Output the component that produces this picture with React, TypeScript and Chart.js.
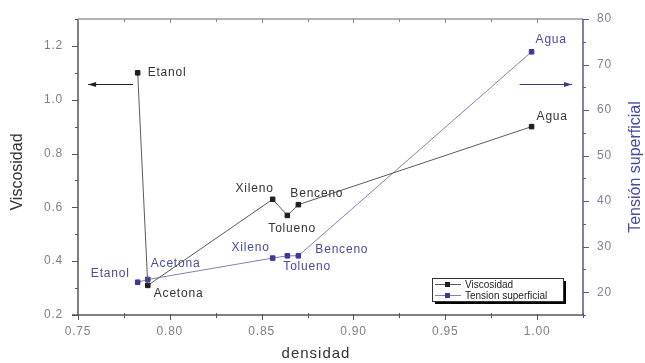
import React, { useEffect, useRef } from "react";
import { Chart, registerables } from "chart.js";

Chart.register(...registerables);

// ---- data ----
const compounds = ["Etanol", "Acetona", "Xileno", "Tolueno", "Benceno", "Agua"];
const densidadVisc = [0.7825, 0.788, 0.856, 0.864, 0.87, 0.997];
const viscosidad = [1.1, 0.31, 0.63, 0.57, 0.61, 0.9];
const densidadTens = [0.7825, 0.788, 0.856, 0.864, 0.87, 0.997];
const tension = [22.2, 22.8, 27.5, 28.0, 28.0, 72.8];
const xTickValues = [0.75, 0.8, 0.85, 0.9, 0.95, 1.0];
const leftTickValues = [0.2, 0.4, 0.6, 0.8, 1.0, 1.2];
const rightTickValues = [20, 30, 40, 50, 60, 70, 80];
const seriesNames = ["Viscosidad", "Tension superficial"];

const BLACK = "#1e1e1e";
const BLACK_LINE = "#5a5a5a";
const BLUE = "#3a3a96";
const BLUE_LINE = "#8080b8";
const BLUE_TEXT = "#4a4aa0";
const FONT = "'Liberation Sans', Arial, sans-serif";

// label offsets (dx, dy, align) per series/point
const blackLabelPos: [number, number, CanvasTextAlign][] = [
  [10, 0, "left"],
  [6, 8, "left"],
  [1, -11, "right"],
  [-19, 13, "left"],
  [-8, -11, "left"],
  [5, -10, "left"],
];
const blueLabelPos: [number, number, CanvasTextAlign][] = [
  [-8, -9, "right"],
  [3, -16, "left"],
  [-3, -10, "right"],
  [-4, 11, "left"],
  [17, -6, "left"],
  [4, -12, "left"],
];

const decorPlugin = {
  id: "decor",
  beforeDraw(chart: any) {
    try { chart.ctx.letterSpacing = "0.8px"; } catch (e) {}
  },
  afterDatasetsDraw(chart: any) {
    const { ctx, chartArea, scales } = chart;
    const { left, right, top, bottom } = chartArea;
    const x = scales.x;
    const yl = scales.y;
    const yr = scales.y1;
    ctx.save();

    // top border
    ctx.strokeStyle = "#9a9a9a";
    ctx.lineWidth = 1.5;
    ctx.beginPath();
    ctx.moveTo(left, top);
    ctx.lineTo(right, top);
    ctx.stroke();
    // bottom axis
    ctx.strokeStyle = "#555";
    ctx.beginPath();
    ctx.moveTo(left - 6, bottom);
    ctx.lineTo(right, bottom);
    ctx.stroke();
    // left axis
    ctx.beginPath();
    ctx.moveTo(left, top);
    ctx.lineTo(left, bottom + 1);
    ctx.stroke();
    // right axis
    ctx.strokeStyle = "#5a5a8c";
    ctx.beginPath();
    ctx.moveTo(right, top);
    ctx.lineTo(right, bottom + 1);
    ctx.stroke();

    // x ticks (bottom outward, top inward)
    ctx.lineWidth = 1;
    for (let v = 0.75; v <= 1.0251; v += 0.025) {
      const major = Math.abs(Math.round(v / 0.05) * 0.05 - v) < 1e-6;
      const px = Math.round(x.getPixelForValue(v)) + 0.5;
      ctx.strokeStyle = "#555";
      ctx.beginPath();
      ctx.moveTo(px, bottom - (major ? 1 : 2));
      ctx.lineTo(px, bottom + (major ? 5 : 3));
      ctx.stroke();
      ctx.strokeStyle = "#888";
      ctx.beginPath();
      ctx.moveTo(px, top);
      ctx.lineTo(px, top + (major ? 4 : 3));
      ctx.stroke();
    }
    // left ticks
    ctx.strokeStyle = "#555";
    for (let v = 0.2; v <= 1.3001; v += 0.1) {
      const major = Math.round(v * 10) % 2 === 0;
      const py = Math.round(yl.getPixelForValue(v)) + 0.5;
      ctx.beginPath();
      ctx.moveTo(left, py);
      ctx.lineTo(left - (major ? 6 : 3), py);
      ctx.stroke();
    }
    // right ticks
    ctx.strokeStyle = "#5a5a8c";
    for (let v = 15; v <= 80.001; v += 5) {
      const major = v % 10 === 0;
      const py = Math.round(yr.getPixelForValue(v)) + 0.5;
      ctx.beginPath();
      ctx.moveTo(right, py);
      ctx.lineTo(right + (major ? 6 : 3), py);
      ctx.stroke();
    }

    // point labels
    ctx.font = `12px ${FONT}`;
    ctx.textBaseline = "middle";
    compounds.forEach((name, i) => {
      const bx = x.getPixelForValue(densidadVisc[i]);
      const by = yl.getPixelForValue(viscosidad[i]);
      const [dx, dy, al] = blackLabelPos[i];
      ctx.fillStyle = "#333";
      ctx.textAlign = al;
      ctx.fillText(name, bx + dx, by + dy);
      const tx = x.getPixelForValue(densidadTens[i]);
      const ty = yr.getPixelForValue(tension[i]);
      const [ex, ey, al2] = blueLabelPos[i];
      ctx.fillStyle = BLUE_TEXT;
      ctx.textAlign = al2;
      ctx.fillText(name, tx + ex, ty + ey);
    });

    // arrows
    const ay = Math.round(yl.getPixelForValue(1.06)) + 0.5;
    const drawArrow = (x1: number, x2: number, color: string) => {
      ctx.strokeStyle = color;
      ctx.fillStyle = color;
      ctx.lineWidth = 1;
      ctx.beginPath();
      ctx.moveTo(x1, ay);
      ctx.lineTo(x2, ay);
      ctx.stroke();
      const d = x2 > x1 ? 1 : -1;
      ctx.beginPath();
      ctx.moveTo(x2, ay);
      ctx.lineTo(x2 - d * 8, ay - 2.5);
      ctx.lineTo(x2 - d * 8, ay + 2.5);
      ctx.closePath();
      ctx.fill();
    };
    drawArrow(x.getPixelForValue(0.78), x.getPixelForValue(0.7555), "#222");
    drawArrow(x.getPixelForValue(0.9905), x.getPixelForValue(1.019), "#3a3a80");

    // legend
    const lx = 432, ly = 278, lw = 131, lh = 23;
    ctx.fillStyle = "#000";
    ctx.fillRect(lx + 3, ly + 3, lw, lh);
    ctx.fillStyle = "#fff";
    ctx.fillRect(lx, ly, lw, lh);
    ctx.strokeStyle = "#333";
    ctx.lineWidth = 1;
    ctx.strokeRect(lx + 0.5, ly + 0.5, lw, lh);
    ctx.font = `10px ${FONT}`;
    ctx.letterSpacing = "0px";
    ctx.textAlign = "left";
    const rows = [
      { y: ly + 6, line: BLACK_LINE, mark: BLACK, text: "#222" },
      { y: ly + 17, line: BLUE_LINE, mark: BLUE, text: "#222" },
    ];
    rows.forEach((r, i) => {
      ctx.strokeStyle = r.line;
      ctx.beginPath();
      ctx.moveTo(lx + 3, r.y + 0.5);
      ctx.lineTo(lx + 29, r.y + 0.5);
      ctx.stroke();
      ctx.fillStyle = r.mark;
      ctx.fillRect(lx + 13, r.y - 2, 5, 5);
      ctx.fillStyle = r.text;
      ctx.fillText(seriesNames[i], lx + 33, r.y + 1);
    });

    // axis titles
    ctx.letterSpacing = "1px";
    ctx.fillStyle = "#333";
    ctx.font = `15px ${FONT}`;
    ctx.textAlign = "center";
    ctx.textBaseline = "middle";
    ctx.fillText("densidad", 316, 354);
    ctx.letterSpacing = "0px";
    ctx.save();
    ctx.translate(18, 172);
    ctx.rotate(-Math.PI / 2);
    ctx.font = `16px ${FONT}`;
    ctx.fillText("Viscosidad", 0, 0);
    ctx.restore();
    ctx.save();
    ctx.translate(636, 167);
    ctx.rotate(-Math.PI / 2);
    ctx.font = `16px ${FONT}`;
    ctx.fillStyle = BLUE_TEXT;
    ctx.fillText("Tensión superficial", 0, 0);
    ctx.restore();

    ctx.restore();
  },
};

export default function App() {
  const ref = useRef<HTMLCanvasElement>(null);
  useEffect(() => {
    document.body.style.margin = "0";
    const canvas = ref.current!;
    const chart = new Chart(canvas, {
      type: "scatter",
      data: {
        datasets: [
          {
            label: seriesNames[0],
            data: densidadVisc.map((d, i) => ({ x: d, y: viscosidad[i] })),
            yAxisID: "y",
            showLine: true,
            borderColor: BLACK_LINE,
            borderWidth: 1,
            backgroundColor: BLACK,
            pointStyle: "rect",
            pointRadius: 3.2,
            pointBorderColor: BLACK,
            pointBorderWidth: 1,
          },
          {
            label: seriesNames[1],
            data: densidadTens.map((d, i) => ({ x: d, y: tension[i] })),
            yAxisID: "y1",
            showLine: true,
            borderColor: BLUE_LINE,
            borderWidth: 1,
            backgroundColor: BLUE,
            pointStyle: "rect",
            pointRadius: 3.2,
            pointBorderColor: BLUE,
            pointBorderWidth: 1,
          },
        ],
      },
      options: {
        responsive: false,
        animation: false,
        devicePixelRatio: 1,
        layout: { padding: { top: 19, left: 0, right: 0, bottom: 0 } },
        plugins: { legend: { display: false }, tooltip: { enabled: false } },
        scales: {
          x: {
            type: "linear",
            min: 0.75,
            max: 1.025,
            afterFit: (s: any) => { s.height = 48; },
            afterBuildTicks: (s: any) => { s.ticks = xTickValues.map((v) => ({ value: v })); },
            grid: { display: false },
            border: { display: false },
            ticks: {
              padding: 1,
              color: "#808080",
              font: { family: FONT, size: 12 },
              callback: (v: any) => Number(v).toFixed(2),
            },
          },
          y: {
            type: "linear",
            position: "left",
            min: 0.2,
            max: 1.3,
            afterFit: (s: any) => { s.width = 78; },
            afterBuildTicks: (s: any) => { s.ticks = leftTickValues.map((v) => ({ value: v })); },
            grid: { display: false },
            border: { display: false },
            ticks: {
              padding: 7,
              color: "#808080",
              font: { family: FONT, size: 12 },
              callback: (v: any) => Number(v).toFixed(1),
            },
          },
          y1: {
            type: "linear",
            position: "right",
            min: 15,
            max: 80,
            afterFit: (s: any) => { s.width = 62; },
            afterBuildTicks: (s: any) => { s.ticks = rightTickValues.map((v) => ({ value: v })); },
            grid: { display: false },
            border: { display: false },
            ticks: {
              padding: 6,
              color: "#8080a0",
              font: { family: FONT, size: 12 },
              callback: (v: any) => String(v),
            },
          },
        },
      },
      plugins: [decorPlugin],
    });
    return () => chart.destroy();
  }, []);
  return (
    <div style={{ width: 645, height: 363, background: "#fff" }}>
      <canvas ref={ref} width={645} height={363} />
    </div>
  );
}
